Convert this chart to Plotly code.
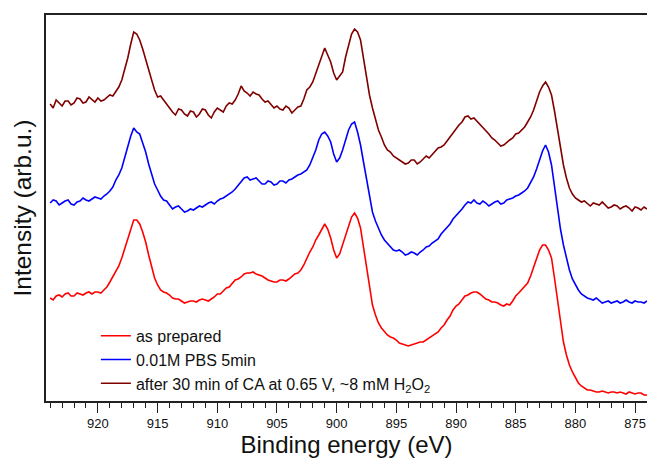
import plotly.graph_objects as go

# Binding energy grid (eV), high to low, 0.25 eV steps
energy = [
    924.0, 923.75, 923.5, 923.25, 923.0, 922.75, 922.5, 922.25, 922.0, 921.75,
    921.5, 921.25, 921.0, 920.75, 920.5, 920.25, 920.0, 919.75, 919.5, 919.25,
    919.0, 918.75, 918.5, 918.25, 918.0, 917.75, 917.5, 917.25, 917.0, 916.75,
    916.5, 916.25, 916.0, 915.75, 915.5, 915.25, 915.0, 914.75, 914.5, 914.25,
    914.0, 913.75, 913.5, 913.25, 913.0, 912.75, 912.5, 912.25, 912.0, 911.75,
    911.5, 911.25, 911.0, 910.75, 910.5, 910.25, 910.0, 909.75, 909.5, 909.25,
    909.0, 908.75, 908.5, 908.25, 908.0, 907.75, 907.5, 907.25, 907.0, 906.75,
    906.5, 906.25, 906.0, 905.75, 905.5, 905.25, 905.0, 904.75, 904.5, 904.25,
    904.0, 903.75, 903.5, 903.25, 903.0, 902.75, 902.5, 902.25, 902.0, 901.75,
    901.5, 901.25, 901.0, 900.75, 900.5, 900.25, 900.0, 899.75, 899.5, 899.25,
    899.0, 898.75, 898.5, 898.25, 898.0, 897.75, 897.5, 897.25, 897.0, 896.75,
    896.5, 896.25, 896.0, 895.75, 895.5, 895.25, 895.0, 894.75, 894.5, 894.25,
    894.0, 893.75, 893.5, 893.25, 893.0, 892.75, 892.5, 892.25, 892.0, 891.75,
    891.5, 891.25, 891.0, 890.75, 890.5, 890.25, 890.0, 889.75, 889.5, 889.25,
    889.0, 888.75, 888.5, 888.25, 888.0, 887.75, 887.5, 887.25, 887.0, 886.75,
    886.5, 886.25, 886.0, 885.75, 885.5, 885.25, 885.0, 884.75, 884.5, 884.25,
    884.0, 883.75, 883.5, 883.25, 883.0, 882.75, 882.5, 882.25, 882.0, 881.75,
    881.5, 881.25, 881.0, 880.75, 880.5, 880.25, 880.0, 879.75, 879.5, 879.25,
    879.0, 878.75, 878.5, 878.25, 878.0, 877.75, 877.5, 877.25, 877.0, 876.75,
    876.5, 876.25, 876.0, 875.75, 875.5, 875.25, 875.0, 874.75, 874.5, 874.25,
    874.0,
]

# Offset intensities (arb. u.) of the three spectra
as_prepared = [
    102, 100, 104, 105, 103, 106, 107, 104, 104, 107, 106, 105, 107, 108, 106, 108, 108, 107, 110, 113,
    118, 123, 128, 134, 142, 152, 162, 172, 180, 180, 176, 168, 158, 145, 132, 122, 115, 110, 108, 107,
    105, 102, 101, 101, 99, 97, 98, 99, 99, 98, 100, 101, 100, 99, 101, 103, 106, 106, 109, 112,
    113, 116, 120, 121, 123, 126, 127, 127, 128, 126, 125, 124, 122, 120, 119, 118, 118, 120, 120, 119,
    121, 124, 126, 127, 130, 135, 142, 148, 153, 160, 165, 171, 176, 171, 162, 150, 142, 146, 155, 166,
    175, 183, 187, 182, 172, 152, 130, 111, 95, 85, 77, 72, 68, 65, 63, 62, 60, 57, 56, 55,
    54, 55, 56, 57, 58, 58, 60, 62, 64, 66, 68, 72, 75, 80, 84, 90, 94, 96, 100, 104,
    105, 107, 108, 108, 106, 103, 101, 100, 98, 98, 97, 95, 94, 96, 95, 99, 104, 107, 110, 113,
    117, 124, 132, 142, 150, 155, 155, 150, 142, 122, 100, 78, 58, 45, 35, 28, 22, 17, 14, 12,
    10, 10, 9, 8, 8, 9, 8, 7, 8, 8, 7, 8, 7, 6, 8, 7, 6, 7, 7, 5,
    5,
]

pbs_5min = [
    197, 200, 199, 195, 197, 199, 200, 196, 195, 198, 199, 202, 200, 199, 201, 203, 202, 201, 204, 206,
    209, 213, 220, 225, 232, 243, 252, 264, 272, 268, 266, 258, 248, 236, 225, 216, 210, 204, 200, 199,
    195, 191, 193, 194, 191, 188, 189, 191, 190, 192, 194, 193, 195, 197, 198, 196, 199, 201, 202, 204,
    206, 208, 211, 215, 218, 222, 223, 220, 221, 222, 219, 216, 216, 219, 218, 215, 216, 219, 219, 217,
    220, 221, 223, 225, 226, 228, 230, 235, 242, 250, 260, 266, 268, 264, 258, 246, 238, 242, 250, 261,
    270, 276, 278, 268, 255, 238, 220, 202, 188, 179, 172, 165, 160, 157, 154, 150, 149, 150, 148, 145,
    146, 148, 147, 145, 148, 150, 153, 154, 157, 159, 161, 166, 169, 172, 176, 181, 184, 187, 191, 195,
    198, 197, 200, 197, 196, 199, 197, 194, 196, 198, 199, 196, 197, 200, 201, 202, 204, 205, 207, 209,
    212, 217, 223, 231, 240, 249, 255, 248, 235, 212, 190, 171, 155, 141, 130, 121, 115, 110, 106, 104,
    102, 101, 100, 102, 99, 97, 98, 99, 97, 98, 99, 97, 98, 100, 98, 97, 99, 98, 98, 97,
    99,
]

after_ca = [
    296, 292, 300, 297, 294, 299, 299, 295, 297, 302, 301, 297, 298, 303, 300, 298, 302, 299, 300, 303,
    305, 304, 309, 313, 320, 330, 342, 356, 368, 366, 360, 351, 340, 331, 320, 310, 303, 304, 300, 295,
    292, 288, 285, 291, 290, 286, 284, 289, 288, 283, 286, 291, 290, 285, 282, 288, 292, 290, 288, 294,
    297, 296, 300, 306, 314, 309, 307, 304, 308, 306, 305, 301, 298, 299, 296, 292, 294, 291, 290, 294,
    292, 287, 290, 293, 294, 301, 310, 313, 318, 326, 335, 344, 352, 345, 338, 327, 320, 324, 328, 343,
    356, 366, 371, 368, 360, 341, 320, 305, 292, 280, 270, 263, 255, 250, 248, 244, 242, 240, 238, 236,
    237, 240, 240, 236, 238, 241, 244, 242, 245, 249, 252, 253, 255, 259, 263, 267, 272, 275, 278, 283,
    284, 281, 282, 279, 276, 273, 270, 266, 262, 260, 257, 254, 255, 258, 260, 262, 266, 267, 270, 273,
    278, 283, 290, 299, 308, 314, 318, 313, 305, 289, 270, 252, 235, 222, 212, 206, 202, 200, 198, 199,
    196, 194, 197, 196, 195, 198, 195, 192, 193, 195, 194, 191, 193, 194, 192, 189, 193, 192, 190, 193,
    191,
]

series = [
    ("as prepared", as_prepared, "#ff0000"),
    ("0.01M PBS 5min", pbs_5min, "#0000ff"),
    ("after 30 min of CA at 0.65 V, ~8 mM H<sub>2</sub>O<sub>2</sub>", after_ca, "#800000"),
]

font_family = "Liberation Sans, Arial, sans-serif"

fig = go.Figure()
for name, values, color in series:
    fig.add_trace(go.Scatter(
        x=energy, y=values, mode="lines", name=name,
        line=dict(color=color, width=1.6),
    ))

fig.update_layout(
    width=647, height=459,
    margin=dict(l=46, r=0, t=15, b=58),
    paper_bgcolor="white", plot_bgcolor="white",
    font=dict(family=font_family, color="#111111"),
    showlegend=True,
    legend=dict(
        x=0.083, y=0.213, xanchor="left", yanchor="top",
        bgcolor="rgba(0,0,0,0)", font=dict(size=16, family=font_family),
        tracegroupgap=0,
    ),
)

fig.update_xaxes(
    range=[924.35, 874.0], autorange=False,
    showgrid=False, zeroline=False,
    showline=True, linecolor="#222222", linewidth=1.5, mirror=True,
    ticks="outside", ticklen=10, tickwidth=1.2, tickcolor="#222222",
    tick0=920, dtick=5,
    minor=dict(ticks="outside", ticklen=5, tickwidth=1.2, tickcolor="#222222", dtick=1),
    tickfont=dict(size=13, family=font_family, color="#111111"),
    title=dict(text="Binding energy (eV)", font=dict(size=24, family=font_family), standoff=5),
)

fig.update_yaxes(
    range=[-1, 385], autorange=False,
    showgrid=False, zeroline=False,
    showline=True, linecolor="#222222", linewidth=1.5,
    showticklabels=False, ticks="",
    title=dict(text="Intensity (arb.u.)", font=dict(size=24.5, family=font_family), standoff=6),
)

fig.write_html("out.html")
